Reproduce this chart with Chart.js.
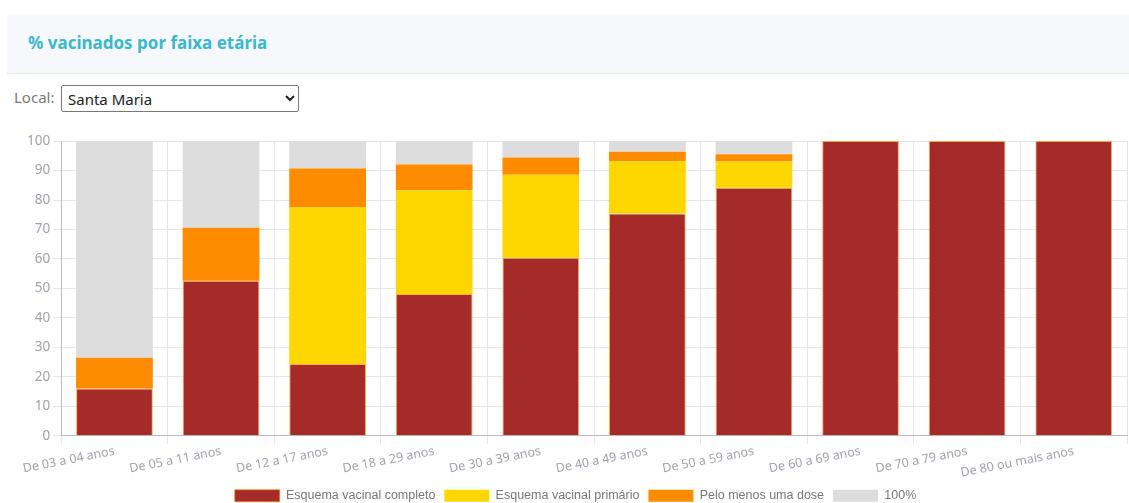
<!DOCTYPE html>
<html>
<head>
<meta charset="utf-8">
<script src="https://cdn.jsdelivr.net/npm/chart.js@4.4.1/dist/chart.umd.min.js"></script>
<style>
  body { margin: 0; background: #fff; font-family: "Noto Sans", sans-serif; overflow: hidden; }
  .card-header {
    position: absolute; left: 7px; top: 15px; width: 1122px; height: 59px;
    background: #f6f8fc; border-bottom: 1px solid #e4e7ec; box-sizing: border-box;
  }
  .card-header h3 {
    margin: 0; position: absolute; left: 21px; top: 16px;
    font-size: 17px; font-weight: 700; color: #3ab8cc;
  }
  .local { position: absolute; left: 14px; top: 87px; font-size: 15px; color: #7a7a7a; }
  select {
    position: absolute; left: 61px; top: 85px; width: 238px; height: 27px;
    font-size: 15px; font-family: "Noto Sans", sans-serif; color: #222;
    border: 1px solid #777; border-radius: 2px; background: #fff; padding: 0 2px;
  }
  .chart-container { position: absolute; left: 0; top: 130px; width: 1129px; height: 382px; }
</style>
</head>
<body>
<div class="card-header"><h3>% vacinados por faixa etária</h3></div>
<span class="local">Local:</span>
<select><option>Santa Maria</option></select>
<div class="chart-container"><canvas id="chart"></canvas></div>
<script>
	// faixas etarias
	const categorias = ['De 03 a 04 anos', 'De 05 a 11 anos', 'De 12 a 17 anos', 'De 18 a 29 anos',
		'De 30 a 39 anos', 'De 40 a 49 anos', 'De 50 a 59 anos', 'De 60 a 69 anos',
		'De 70 a 79 anos', 'De 80 ou mais anos'];

	// % por grupo (empilhado)
	const completo = [16.1, 52.6, 24.4, 48.1, 60.4, 75.4, 84.2, 100, 100, 100];
	const primario = [0, 0, 53.1, 35.2, 28.2, 17.8, 8.9, 0, 0, 0];
	const umaDose = [10.4, 18.0, 13.2, 8.8, 5.8, 3.2, 2.4, 0, 0, 0];
	const restante = [73.5, 29.4, 9.3, 7.9, 5.6, 3.6, 4.5, 0, 0, 0];

	const yTicks = [0, 10, 20, 30, 40, 50, 60, 70, 80, 90, 100];

	new Chart(document.getElementById('chart'), {
		type: 'bar',
		data: {
			labels: categorias,
			datasets: [
				{ label: 'Esquema vacinal completo', data: completo, backgroundColor: '#a52a2a', borderColor: 'rgba(255,140,0,0.7)', borderWidth: 1 },
				{ label: 'Esquema vacinal primário', data: primario, backgroundColor: '#ffd700', borderWidth: 0 },
				{ label: 'Pelo menos uma dose', data: umaDose, backgroundColor: '#ff8c00', borderWidth: 0 },
				{ label: '100%', data: restante, backgroundColor: '#dddddd', borderWidth: 0 }
			]
		},
		options: {
			responsive: true,
			maintainAspectRatio: false,
			animation: false,
			layout: { padding: { left: 24, right: 2, top: 8, bottom: 0 } },
			plugins: {
				legend: {
					position: 'bottom',
					labels: { boxWidth: 45, boxHeight: 12, padding: 9, color: '#777', font: { family: '"Liberation Sans Narrow", "Liberation Sans", sans-serif', size: 12.5 } }
				},
				tooltip: { enabled: false }
			},
			scales: {
				x: {
					stacked: true,
					grid: { color: '#e6e6e6', offset: true },
					border: { color: '#bbb' },
					ticks: { color: '#a0a2b0', font: { family: '"Noto Sans", sans-serif', size: 12.5 }, minRotation: 11, maxRotation: 11, padding: 0 }
				},
				y: {
					stacked: true,
					min: 0,
					max: 100,
					afterBuildTicks: axis => { axis.ticks = yTicks.map(v => ({ value: v })); },
					grid: { color: '#e6e6e6' },
					border: { color: '#bbb' },
					ticks: { color: '#a0a2b0', font: { family: '"Noto Sans", sans-serif', size: 13.5 } }
				}
			}
		}
	});
</script>
</body>
</html>
